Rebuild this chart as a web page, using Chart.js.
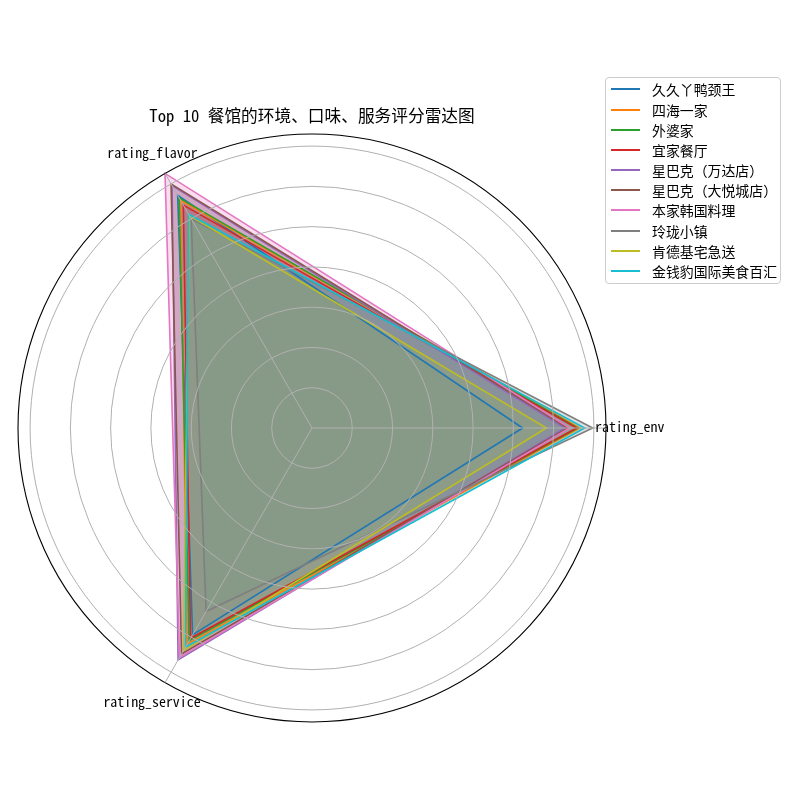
<!DOCTYPE html>
<html>
<head>
<meta charset="utf-8">
<script src="https://cdn.jsdelivr.net/npm/chart.js"></script>
<style>
html,body{margin:0;padding:0;background:#fff;}
#wrap{position:relative;width:800px;height:800px;overflow:hidden;}
#c{position:absolute;left:0;top:0;}
#legend{position:absolute;left:605px;top:77px;width:174px;height:205px;border:1px solid #cccccc;border-radius:4px;background:rgba(255,255,255,0.8);color:#000;font-size:13.9px;}
.row{position:absolute;left:0;width:174px;height:20px;line-height:20px;white-space:nowrap;}
.sw{position:absolute;left:5px;top:9px;width:29px;height:2px;}
.tx{position:absolute;left:46px;top:0;}
</style>
</head>
<body>
<div id="wrap">
<canvas id="c" width="800" height="800"></canvas>
<div id="legend"></div>
</div>
<script>
const FONT = '"Noto Sans Mono CJK SC", "Noto Sans CJK SC", "DejaVu Sans", sans-serif';
const TITLE = 'Top 10 餐馆的环境、口味、服务评分雷达图';
const names = ['久久丫鸭颈王','四海一家','外婆家','宜家餐厅','星巴克（万达店）','星巴克（大悦城店）','本家韩国料理','玲珑小镇','肯德基宅急送','金钱豹国际美食百汇'];
const colors = ['#1f77b4','#ff7f0e','#2ca02c','#d62728','#9467bd','#8c564b','#e377c2','#7f7f7f','#bcbd22','#17becf'];
const ratingEnv     = [5.23, 6.65, 6.60, 6.57, 6.28, 6.35, 6.40, 6.97, 5.82, 6.77];
const ratingFlavor  = [6.67, 6.53, 6.60, 6.39, 6.95, 7.00, 7.30, 6.00, 6.10, 6.13];
const ratingService = [5.93, 6.20, 6.10, 6.03, 6.65, 6.48, 6.58, 5.26, 6.38, 6.28];
const axisLabels = ['rating_env','rating_service','rating_flavor'];
const RMAX = 7.3;

function rgba(hex, a){
  const n = parseInt(hex.slice(1),16);
  return 'rgba(' + ((n>>16)&255) + ',' + ((n>>8)&255) + ',' + (n&255) + ',' + a + ')';
}

const seriesFor = i => [ratingEnv[i], ratingService[i], ratingFlavor[i]];

const axisLabelPlugin = {
  id: 'axisLabels',
  afterDraw(chart){
    const s = chart.scales.r;
    const c = chart.ctx;
    c.save();
    c.font = '13.9px ' + FONT;
    c.fillStyle = '#000';
    c.textBaseline = 'middle';
    const offs = [
      {dx:-11, dy:-1, align:'left'},
      {dx:-13, dy:19, align:'center'},
      {dx:-12.5, dy:-20.4, align:'center'}
    ];
    axisLabels.forEach((t,i)=>{
      const p = s.getPointPositionForValue(i, RMAX);
      c.textAlign = offs[i].align;
      c.fillText(t, p.x + offs[i].dx, p.y + offs[i].dy);
    });
    c.restore();
  }
};

new Chart(document.getElementById('c').getContext('2d'), {
  type: 'radar',
  data: {
    labels: axisLabels,
    datasets: names.map((n,i)=>({
      label: n,
      data: seriesFor(i),
      borderColor: colors[i],
      backgroundColor: rgba(colors[i], 0.25),
      borderWidth: 1.6,
      pointRadius: 0,
      pointHoverRadius: 0,
      fill: true,
      tension: 0,
      order: names.length - i
    }))
  },
  options: {
    responsive: false,
    animation: false,
    devicePixelRatio: 1,
    layout: {padding: {left: 18, right: 194, top: 105.96, bottom: 78}},
    plugins: {
      legend: {display: false},
      tooltip: {enabled: false},
      filler: {drawTime: 'beforeDatasetsDraw'},
      title: {
        display: true, text: TITLE, color: '#000',
        font: {family: FONT, size: 16.7, weight: 'normal', lineHeight: 1.2},
        padding: {top: 0, bottom: 8}
      }
    },
    scales: {
      r: {
        min: 0, max: RMAX, startAngle: 90,
        ticks: {display: false, stepSize: 1, includeBounds: false},
        afterBuildTicks: s => { s.ticks.push({value: RMAX}); },
        grid: {
          circular: true, z: 1,
          color: c => (c.tick && c.tick.value === RMAX) ? '#000000' : '#b0b0b0',
          lineWidth: c => (c.tick && c.tick.value === RMAX) ? 1.1 : 1
        },
        angleLines: {display: true, color: '#b0b0b0', lineWidth: 1},
        pointLabels: {display: false}
      }
    }
  },
  plugins: [axisLabelPlugin]
});

const lg = document.getElementById('legend');
lg.style.fontFamily = FONT;
names.forEach((n,i)=>{
  const row = document.createElement('div');
  row.className = 'row';
  row.style.top = Math.round(1.3 + 20.2*i) + 'px';
  const sw = document.createElement('div');
  sw.className = 'sw';
  sw.style.backgroundColor = colors[i];
  const tx = document.createElement('span');
  tx.className = 'tx';
  tx.textContent = n;
  row.appendChild(sw); row.appendChild(tx);
  lg.appendChild(row);
});
</script>
</body>
</html>
